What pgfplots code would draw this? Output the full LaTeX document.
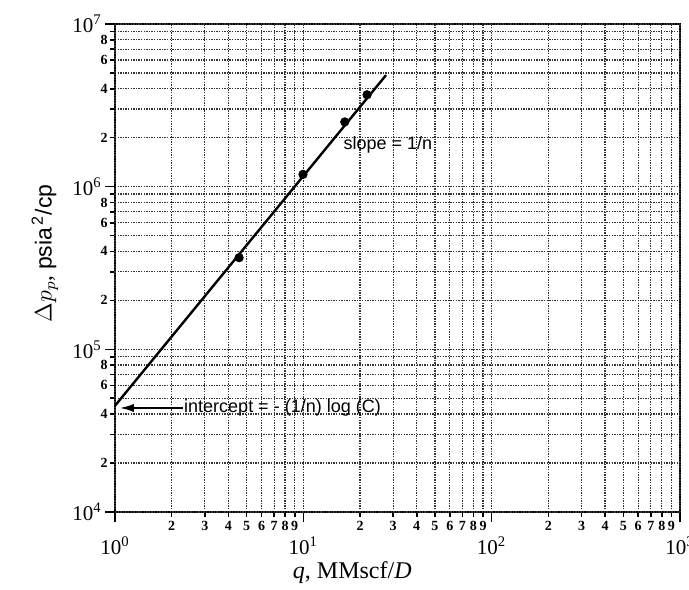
\documentclass[border=0pt]{standalone}
\usepackage{fontspec}
\setmainfont{Liberation Serif}
\newfontfamily\annot{Liberation Sans}
\usepackage{pgfplots}
\pgfplotsset{compat=1.18}
\usetikzlibrary{arrows.meta}
\begin{document}
\begin{tikzpicture}
\begin{loglogaxis}[
  name=ax,
  scale only axis,
  width=282.5pt, height=244pt,
  xmin=1, xmax=1000, ymin=1e4, ymax=1e7,
  axis line style={line width=1pt},
  tick align=outside,
  tick pos=left,
  tick style={black, line width=0.8pt},
  major tick length=2.5pt,
  xtick={2,3,4,5,6,7,8,9,20,30,40,50,60,70,80,90,200,300,400,500,600,700,800,900},
  xticklabels={2,3,4,5,6,7,8,9,2,3,4,5,6,7,8,9,2,3,4,5,6,7,8,9},
  ytick={2e4,3e4,4e4,5e4,6e4,7e4,8e4,9e4,2e5,3e5,4e5,5e5,6e5,7e5,8e5,9e5,2e6,3e6,4e6,5e6,6e6,7e6,8e6,9e6},
  yticklabels={2,,4,,6,,8,,2,,4,,6,,8,,2,,4,,6,,8,},
  minor xtick={}, minor ytick={},
  xticklabel style={font=\fontsize{7}{7}\selectfont\bfseries, inner sep=1pt, yshift=-1pt},
  yticklabel style={font=\fontsize{7}{7}\selectfont\bfseries, inner sep=1pt},
  extra x ticks={1,10,100,1000},
  extra x tick labels={10\textsuperscript{0},10\textsuperscript{1},10\textsuperscript{2},10\textsuperscript{3}},
  extra x tick style={grid=major, major tick length=5pt,
    xticklabel style={yshift=-5pt, font=\fontsize{10.5}{10.5}\selectfont}},
  extra y ticks={1e4,1e5,1e6,1e7},
  extra y tick labels={10\textsuperscript{4},10\textsuperscript{5},10\textsuperscript{6},10\textsuperscript{7}},
  extra y tick style={grid=major, major tick length=5pt,
    yticklabel style={font=\fontsize{10.5}{10.5}\selectfont, inner sep=1.5pt}},
  grid=major,
  major grid style={black!80, line width=0.6pt, dash pattern=on 0.7pt off 0.6pt},
  xlabel={\fontsize{12}{12}\selectfont\textit{q}, MMscf/\textit{D}},
  xlabel style={at={(axis description cs:0.42,-0.125)}, anchor=center},
  ylabel={\fontsize{11.5}{12}\selectfont$\Delta p_p$, {\annot psia\textsuperscript{\,2}/cp}},
  ylabel style={at={(axis description cs:-0.124,0.53)}, anchor=center},
]
\addplot[black, line width=1.2pt, no marks] coordinates {(1,4.5e4) (27.5,4.85e6)};
\addplot[black, only marks, mark=*, mark size=2.1pt] coordinates {(4.56,3.66e5) (9.96,1.19e6) (16.6,2.5e6) (21.8,3.67e6)};
\node[anchor=west, inner sep=0pt, font=\annot\fontsize{9}{9}\selectfont] at (axis cs:16.3,1.82e6) {slope = 1/n};
\draw[-{Latex[length=7pt,width=4pt]}, line width=0.9pt] (axis cs:2.3,4.36e4) -- (axis cs:1.06,4.36e4);
\node[anchor=west, inner sep=0pt, font=\annot\fontsize{9}{9}\selectfont] at (axis cs:2.32,4.36e4) {intercept = - (1/n) log (C)};
\end{loglogaxis}
\pgfresetboundingbox
\path[use as bounding box] ([xshift=-57.5pt,yshift=-39pt]ax.south west) rectangle ([xshift=4.5pt,yshift=12pt]ax.north east);
\end{tikzpicture}
\end{document}
